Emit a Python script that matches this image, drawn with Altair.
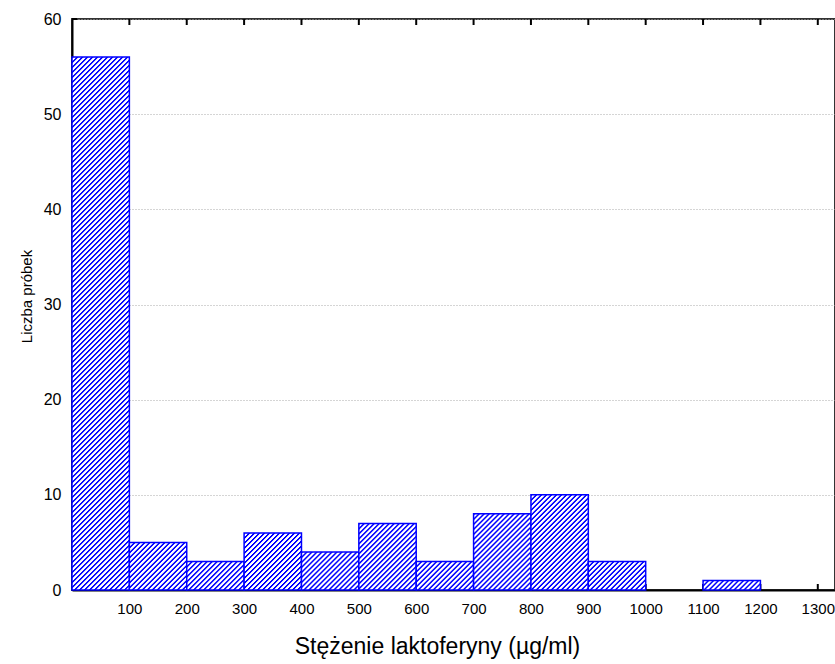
import altair as alt
import pandas as pd

# ---- data ----
bin_start = [0, 100, 200, 300, 400, 500, 600, 700, 800, 900, 1000, 1100, 1200]
bin_end = [100, 200, 300, 400, 500, 600, 700, 800, 900, 1000, 1100, 1200, 1300]
counts = [56, 5, 3, 6, 4, 7, 3, 8, 10, 3, 0, 1, 0]
x_ticks = [100, 200, 300, 400, 500, 600, 700, 800, 900, 1000, 1100, 1200, 1300]
y_ticks = [0, 10, 20, 30, 40, 50, 60]
x_title = "Stężenie laktoferyny (µg/ml)"
y_title = "Liczba próbek"

# ---- styling ----
W, H = 763, 571
XMAX, YMAX = 1330, 60
BLUE = "#0000ff"
FONT = "Liberation Sans, Arial, sans-serif"
PERIOD = 5.0   # hatch period along X+Y in pixels

pxx = W / XMAX
pxy = H / YMAX


def hatch(w, h):
    a = (w + h) * w / (w * w + h * h)
    b = (w + h) * h / (w * w + h * h)
    n = (w + h) / PERIOD
    stops = []
    k = 0
    while k < n:
        def off(f):
            return min((k + f) / n, 1.0)
        stops += [
            alt.GradientStop(offset=off(0.0), color=BLUE),
            alt.GradientStop(offset=off(0.22), color=BLUE),
            alt.GradientStop(offset=off(0.42), color="white"),
            alt.GradientStop(offset=off(0.80), color="white"),
            alt.GradientStop(offset=off(1.0), color=BLUE),
        ]
        k += 1
    return alt.LinearGradient(gradient="linear", x1=0, y1=0, x2=a, y2=b, stops=stops)


xscale = alt.Scale(domain=[0, XMAX], nice=False, zero=False)
yscale = alt.Scale(domain=[0, YMAX], nice=False, zero=False)

xaxis = alt.Axis(
    values=x_ticks, format="d", ticks=False, grid=False, domain=True,
    domainColor="black", domainWidth=2, labelFont=FONT, labelFontSize=15,
    labelColor="black", labelPadding=11, labelFlush=False, labelOverlap=False,
    title=x_title, titleFont=FONT, titleFontSize=23, titleFontWeight="normal",
    titleColor="black", titleX=365, titleY=63, titleAlign="center",
    titleBaseline="alphabetic",
)
yaxis = alt.Axis(
    values=y_ticks, format="d", ticks=False, grid=True, gridColor="#aaaaaa",
    gridDash=[1, 2], gridWidth=1, domain=True, domainColor="black",
    domainWidth=2, labelFont=FONT, labelFontSize=16, labelColor="black",
    labelPadding=11, labelFlush=False, labelOverlap=False,
    title=y_title, titleFont=FONT, titleFontSize=15, titleFontWeight="normal",
    titleColor="black", titleX=-46, titleY=277, titleAlign="center",
    titleBaseline="middle", titleAngle=270,
)

df = pd.DataFrame({"start": bin_start, "end": bin_end, "count": counts})
df["base"] = 0

tick_x = pd.DataFrame({"v": x_ticks})
tick_y = pd.DataFrame({"v": y_ticks})

top_ticks = alt.Chart(tick_x).mark_rule(color="black", strokeWidth=2).encode(
    x=alt.X("v:Q", scale=xscale, axis=xaxis),
    y=alt.value(0), y2=alt.value(6),
)
bottom_ticks = alt.Chart(tick_x).mark_rule(color="black", strokeWidth=2).encode(
    x=alt.X("v:Q", scale=xscale, axis=xaxis),
    y=alt.value(H), y2=alt.value(H - 6),
)
left_ticks = alt.Chart(tick_y).mark_rule(color="black", strokeWidth=2).encode(
    y=alt.Y("v:Q", scale=yscale, axis=yaxis),
    x=alt.value(0), x2=alt.value(5),
)

layers = [top_ticks, bottom_ticks, left_ticks]
for i in range(len(bin_start)):
    if counts[i] <= 0:
        continue
    w = (bin_end[i] - bin_start[i]) * pxx
    h = counts[i] * pxy
    sub = df.iloc[[i]]
    layers.append(
        alt.Chart(sub).mark_rect(fill=hatch(w, h), stroke=BLUE, strokeWidth=1.5).encode(
            x=alt.X("start:Q", scale=xscale, axis=xaxis),
            x2="end:Q",
            y=alt.Y("count:Q", scale=yscale, axis=yaxis),
            y2="base:Q",
        )
    )

chart = alt.layer(*layers).properties(
    width=W, height=H,
    autosize=alt.AutoSizeParams(type="none"),
    padding={"left": 72, "top": 19, "right": 0, "bottom": 74},
    background="white",
).configure_view(stroke="#333333", strokeWidth=2)

chart.save("out.html", embed_options={"renderer": "svg", "actions": False})
